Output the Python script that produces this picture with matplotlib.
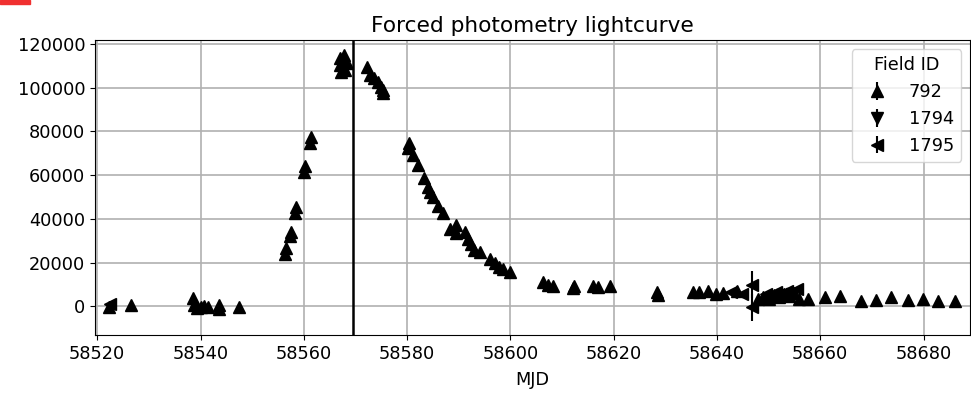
import numpy as np
import matplotlib
matplotlib.use('Agg')
import matplotlib.pyplot as plt
from matplotlib.patches import Rectangle

# Field 792 (upward triangles)
mjd_792 = [58522.2, 58526.5, 58538.5, 58538.8, 58539.3, 58540.0, 58540.7, 58541.5,
           58543.5, 58543.6, 58547.4,
           58556.4, 58556.6, 58557.3, 58557.5, 58558.3, 58558.5, 58560.0, 58560.2,
           58561.2, 58561.4, 58567.1, 58567.7, 58567.1, 58567.2, 58568.0, 58568.3,
           58572.3, 58572.9, 58573.5, 58574.3, 58574.9, 58575.3, 58575.4,
           58580.1, 58580.3, 58581.2, 58582.2, 58583.2, 58584.0, 58584.5, 58585.1,
           58586.0, 58587.0, 58588.4, 58589.4, 58589.5, 58591.3, 58591.7, 58592.3,
           58592.9, 58594.2, 58596.0, 58597.0, 58597.8, 58598.6, 58600.0,
           58606.4, 58607.3, 58608.3, 58612.2, 58612.3, 58616.0, 58617.0, 58619.3,
           58628.4, 58628.5, 58635.4, 58636.6, 58638.2, 58639.8, 58641.2, 58643.8,
           58648.0, 58649.0, 58650.0, 58651.0, 58652.0, 58653.0, 58654.0, 58655.0,
           58655.8, 58657.6, 58660.9, 58663.8, 58667.9, 58670.8, 58673.7, 58677.0,
           58679.9, 58682.8, 58686.1]
flux_792 = [-500, 500, 4000, 500, -800, -500, 0, -200,
            500, -1000, -500,
            24000, 26500, 32000, 34000, 42500, 45500, 61500, 64000,
            74500, 77500, 113700, 115000, 110500, 107300, 108200, 111500,
            109600, 106000, 104500, 102700, 100500, 97700, 99000,
            72500, 74900, 69400, 64800, 58900, 54800, 52500, 50200,
            45700, 42900, 35200, 37400, 33600, 34200, 30600, 28500,
            26000, 24700, 21500, 19800, 17900, 16900, 15500,
            11000, 10000, 9100, 8200, 9500, 9100, 8700, 9100,
            6400, 5200, 6400, 6400, 7000, 5500, 6000, 7200,
            3200, 4500, 3500, 5000, 4200, 5500, 4800, 6000,
            3300, 3200, 4100, 4600, 2300, 2700, 4100, 2700,
            3200, 2300, 2300]

# Field 1794 (downward triangles)
mjd_1794 = [58652.5, 58654.5]
flux_1794 = [5000, 5500]

# Field 1795 (left triangles)
mjd_1795 = [58522.5, 58642.7, 58644.8, 58646.7, 58646.7,
            58649.5, 58651.5, 58653.5, 58655.5]
flux_1795 = [1000, 6800, 5500, 10000, -500,
             5500, 6500, 7000, 8000]
err_1795 = [800, 800, 800, 6000, 6300, 800, 800, 800, 800]

t_peak = 58569.6

plt.rcParams['font.size'] = 12.8

fig = plt.figure(figsize=(9.71, 3.93), dpi=100)
ax = fig.add_axes([0.098, 0.147, 0.901, 0.751])

ax.errorbar(mjd_792, flux_792, yerr=500, fmt='^', color='k', ms=8, label='792')
ax.errorbar(mjd_1794, flux_1794, yerr=500, fmt='v', color='k', ms=8, label='1794')
ax.errorbar(mjd_1795, flux_1795, yerr=err_1795, fmt='<', color='k', ms=8, label='1795')
ax.axvline(t_peak, color='k', lw=1.8)

ax.set_xlim(58519.6, 58689)
ax.set_ylim(-13200, 121800)
ax.set_xticks(np.arange(58520, 58681, 20))
ax.set_yticks(np.arange(0, 120001, 20000))
ax.grid(True, color='#b0b0b0', lw=1.2)
ax.set_axisbelow(True)
ax.set_title('Forced photometry lightcurve', fontsize=15.6)
ax.set_xlabel('MJD', labelpad=6)
ax.legend(title='Field ID', loc='upper right')

fig.patches.append(Rectangle((0, 389), 30, 4, transform=None, color='#f03030'))

fig.savefig('out.png', dpi=100)
